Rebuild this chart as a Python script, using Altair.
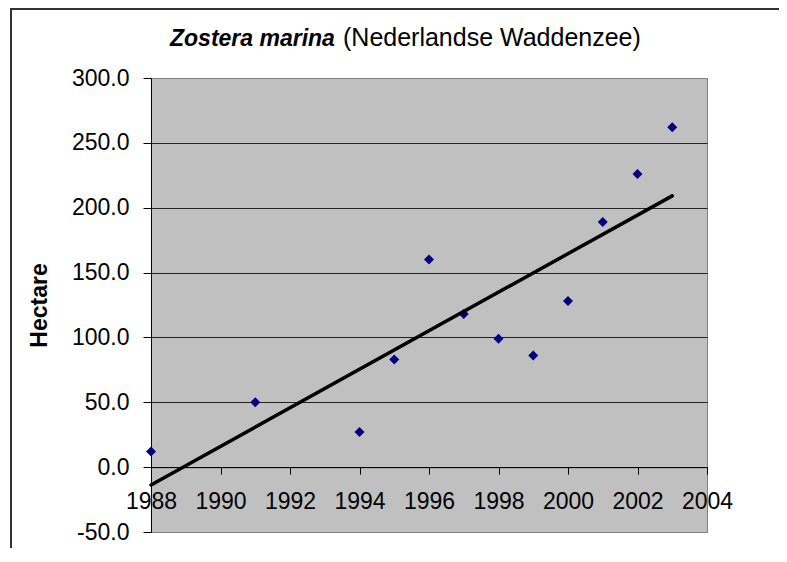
import altair as alt
import pandas as pd

# ---- data ----
years = [1988, 1991, 1994, 1995, 1996, 1997, 1998, 1999, 2000, 2001, 2002, 2003]
hectare = [12, 50, 27, 83, 160, 118, 99, 86, 128, 189, 226, 262]
x_ticks = [1988, 1990, 1992, 1994, 1996, 1998, 2000, 2002, 2004]
y_ticks = [-50, 0, 50, 100, 150, 200, 250, 300]
title_italic = ["Zostera marina"]
title_plain = ["(Nederlandse Waddenzee)"]

FONT = "Liberation Sans"
FS = 23
W, H = 556, 454
Y_MIN, Y_MAX = -50, 300

df = pd.DataFrame({"Jaar": years, "Hectare": hectare})

x_enc = alt.X(
    "Jaar:Q",
    scale=alt.Scale(domain=[1988, 2004], nice=False, zero=False),
    axis=alt.Axis(
        values=x_ticks, format="d", title=None,
        offset=-H * (0 - Y_MIN) / (Y_MAX - Y_MIN),
        grid=False, domainColor="black", domainWidth=1,
        tickColor="black", tickSize=7, tickWidth=1,
        labelPadding=16, labelFont=FONT, labelFontSize=FS, labelColor="black",
        labelFlush=False, labelOverlap=False,
    ),
)
y_enc = alt.Y(
    "Hectare:Q",
    scale=alt.Scale(domain=[Y_MIN, Y_MAX], nice=False),
    axis=alt.Axis(
        values=y_ticks, title="Hectare",
        labelExpr="(datum.value < 0 ? '-' : '') + format(abs(datum.value), '.1f')",
        grid=True,
        gridColor=alt.condition("datum.value == 300 || datum.value == -50",
                                alt.value("#808080"), alt.value("#222222")),
        gridWidth=1,
        domainColor="black", domainWidth=1,
        tickColor="black", tickSize=8, tickWidth=1,
        labelPadding=14, labelFont=FONT, labelFontSize=FS, labelColor="black",
        labelOverlap=False,
        titleFont=FONT, titleFontSize=FS, titleFontWeight="bold", titleColor="black",
        titleX=-112, titleBaseline="middle", titleAngle=270,
    ),
)

base = alt.Chart(df)

points = base.mark_point(shape="diamond", filled=True, size=100,
                         color="#000080", opacity=1).encode(x=x_enc, y=y_enc)

trend = base.transform_regression("Jaar", "Hectare").mark_line(
    color="black", strokeWidth=3.5, strokeCap="round"
).encode(x=alt.X("Jaar:Q"), y=alt.Y("Hectare:Q"))

t1 = alt.Chart(pd.DataFrame({"t": title_italic})).mark_text(
    align="left", baseline="alphabetic", font=FONT, fontSize=FS,
    fontStyle="italic", fontWeight="bold", color="black"
).encode(text="t:N", x=alt.value(19), y=alt.value(-32))

t2 = alt.Chart(pd.DataFrame({"t": title_plain})).mark_text(
    align="left", baseline="alphabetic", font=FONT, fontSize=25,
    color="black"
).encode(text="t:N", x=alt.value(192), y=alt.value(-32))

frame = alt.Chart(pd.DataFrame({"a": [0]})).mark_rect(
    fill="transparent", stroke="#333333", strokeWidth=2
).encode(
    x=alt.value(-140), x2=alt.value(W + 200),
    y=alt.value(-69), y2=alt.value(H + 200),
)

chart = alt.layer(frame, points, trend, t1, t2).properties(
    width=W, height=H,
    background="white",
    autosize=alt.AutoSizeParams(type="none"),
    padding={"left": 143, "top": 70, "right": 72, "bottom": 16},
).configure_view(
    fill="#C0C0C0", stroke="#808080", strokeWidth=1
)

chart.save("out.html", embed_options={"renderer": "svg", "actions": False})
